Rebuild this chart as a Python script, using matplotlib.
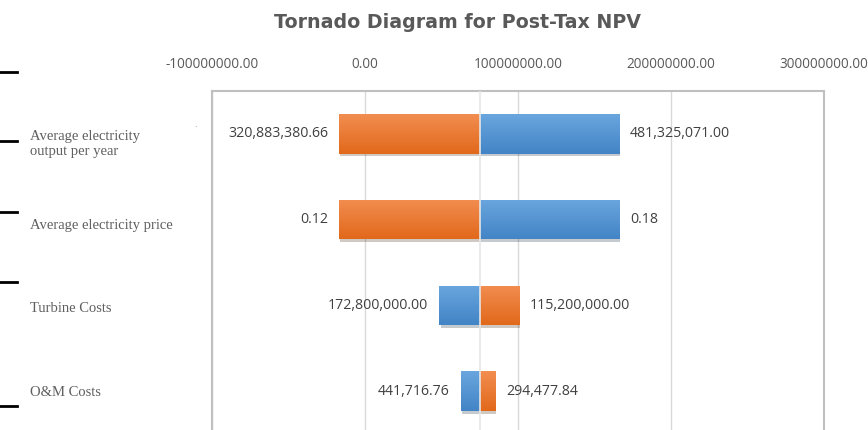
import matplotlib
matplotlib.use("Agg")
import numpy as np
import matplotlib.pyplot as plt
import matplotlib.patheffects as pe
from matplotlib.colors import LinearSegmentedColormap
from matplotlib.ticker import FormatStrFormatter

# data
categories = ["Average electricity\noutput per year", "Average electricity price",
              "Turbine Costs", "O&M Costs"]
base_npv = 75.0e6
npv_low_input = [-17.0e6, -17.0e6, 100.7e6, 85.0e6]     # orange
npv_high_input = [166.0e6, 166.0e6, 48.5e6, 62.8e6]     # blue
low_labels = ["320,883,380.66", "0.12", "115,200,000.00", "294,477.84"]
high_labels = ["481,325,071.00", "0.18", "172,800,000.00", "441,716.76"]
x_ticks = [-100e6, 0, 100e6, 200e6, 300e6]

# light at the top, darker at the bottom
orange_grad = LinearSegmentedColormap.from_list("o", ["#F28D50", "#E1691B"])
blue_grad = LinearSegmentedColormap.from_list("b", ["#6AA6DE", "#4284C6"])
text_gray = "#595959"

W, H = 868, 430
fig = plt.figure(figsize=(W / 100, H / 100), dpi=100)

# plot area: left 212, right 824, top 91, bottom just below the picture
left, right, top, bottom = 212, 824, 91, 434
ax = fig.add_axes([left / W, 1 - bottom / H, (right - left) / W, (bottom - top) / H])
ax.set_xlim(-100e6, 300e6)
ax.set_ylim(3.5, -0.5)

bar_h = 0.46
grad = np.linspace(0, 1, 64).reshape(-1, 1)
shadow = [pe.SimplePatchShadow(offset=(1, -2), alpha=0.25), pe.Normal()]
y = list(range(len(categories)))
for i in y:
    for val, cmap in ((npv_low_input[i], orange_grad), (npv_high_input[i], blue_grad)):
        bar = ax.barh(i, val - base_npv, left=base_npv, height=bar_h,
                      color=cmap(0.5), zorder=3, path_effects=shadow)[0]
        x0, x1 = sorted([base_npv, val])
        im = ax.imshow(grad, cmap=cmap, aspect="auto", zorder=3.5,
                       extent=[x0, x1, i + bar_h / 2, i - bar_h / 2],
                       origin="upper", vmin=0, vmax=1)
        im.set_clip_path(bar)
    lo = min(npv_low_input[i], npv_high_input[i])
    hi = max(npv_low_input[i], npv_high_input[i])
    lab_lo = low_labels[i] if npv_low_input[i] < npv_high_input[i] else high_labels[i]
    lab_hi = high_labels[i] if npv_low_input[i] < npv_high_input[i] else low_labels[i]
    ax.annotate(lab_lo, (lo, i), xytext=(-8, 0), textcoords="offset points",
                ha="right", va="center", fontsize=10.2, color="#404040",
                family="Open Sans")
    ax.annotate(lab_hi, (hi, i), xytext=(8, 0), textcoords="offset points",
                ha="left", va="center", fontsize=10.2, color="#404040",
                family="Open Sans")

ax.set_xlim(-100e6, 300e6)
ax.set_ylim(3.5, -0.5)
ax.axvline(base_npv, color="#E6E6E6", lw=1.2, zorder=4)
ax.set_xticks(x_ticks)
ax.xaxis.set_major_formatter(FormatStrFormatter("%.2f"))
ax.xaxis.tick_top()
ax.tick_params(axis="x", length=0, pad=14, labelsize=9.8, labelcolor=text_gray)
for t in ax.get_xticklabels():
    t.set_family("Open Sans")
ax.set_yticks([])
ax.grid(axis="x", color="#D9D9D9", lw=1, zorder=0)
for s in ax.spines.values():
    s.set_color("#BFBFBF")
    s.set_linewidth(1.5)

fig.text(458 / W, 1 - 23 / H, "Tornado Diagram for Post-Tax NPV", ha="center",
         va="center", fontsize=13.7, fontweight="bold", color=text_gray,
         family="Liberation Sans Narrow")

# category labels sit to the left of the chart
label_y = [144, 225, 308, 393]
for lab, ly in zip(categories, label_y):
    fig.text(30 / W, 1 - ly / H, lab, ha="left", va="center", fontsize=10.5,
             color="#5F5F5F", family="Liberation Serif", linespacing=1.2)
fig.text(195 / W, 1 - 128 / H, "·", ha="center", va="center", fontsize=6,
         color="#888888")

# short black marks at the far left edge
for my in [72, 141, 212, 282, 406]:
    fig.add_artist(plt.Line2D([0, 17 / W], [1 - my / H] * 2, color="black", lw=2))

fig.savefig("out.png", dpi=100)
